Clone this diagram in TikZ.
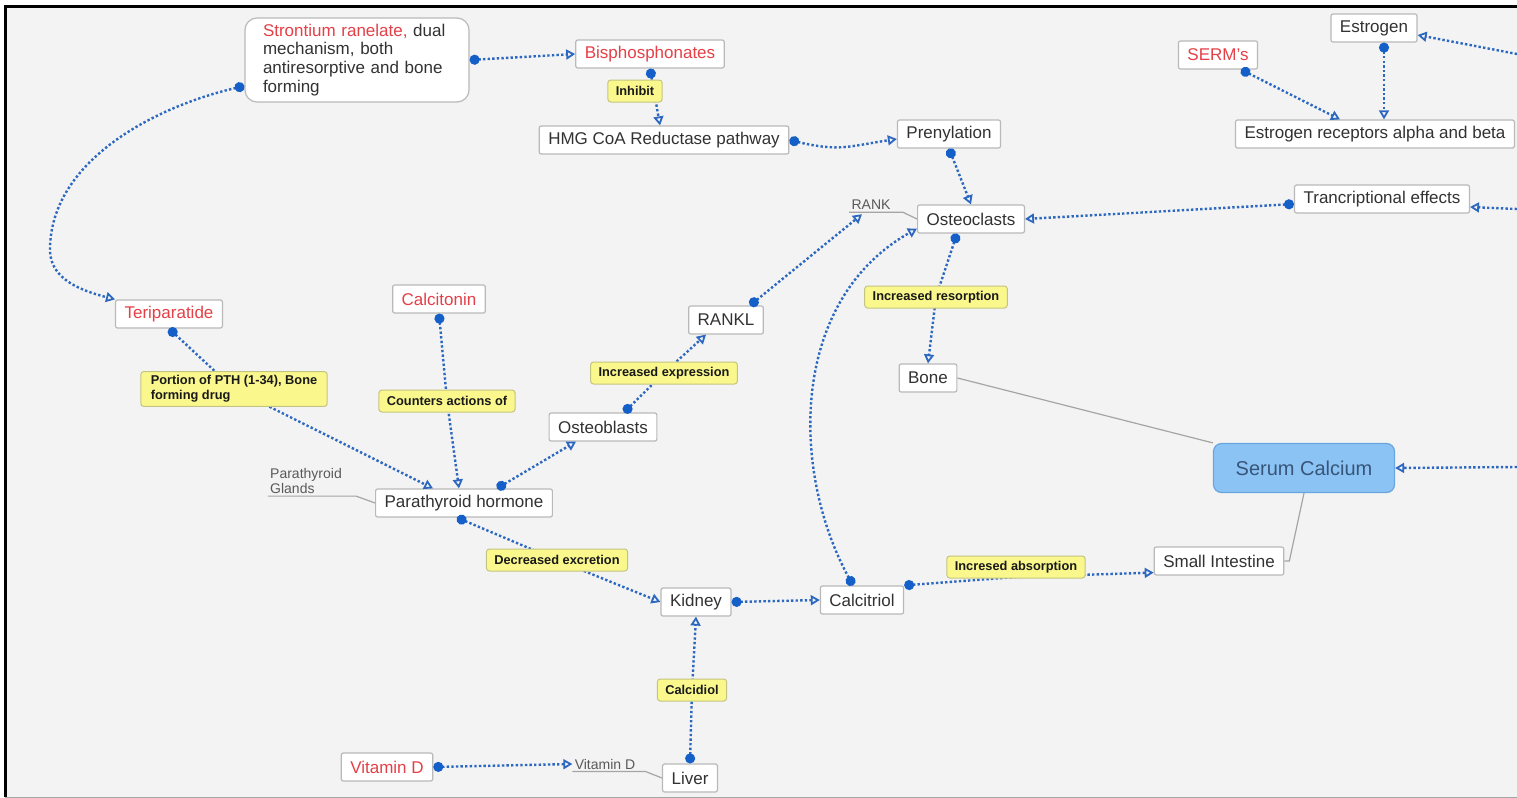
\documentclass[tikz,border=0pt]{standalone}
\usepackage{fontspec}
\setmainfont{Liberation Sans}
\usetikzlibrary{arrows.meta,calc}

\definecolor{bggray}{RGB}{243,243,243}
\definecolor{boxgray}{RGB}{185,185,185}
\definecolor{txtgray}{RGB}{50,50,50}
\definecolor{drugred}{RGB}{228,64,72}
\definecolor{linkblue}{RGB}{45,104,192}
\definecolor{dotblue}{RGB}{20,96,200}
\definecolor{tagyellow}{RGB}{250,248,140}
\definecolor{tagedge}{RGB}{196,196,130}
\definecolor{tiegray}{RGB}{165,165,165}
\definecolor{calfill}{RGB}{140,195,245}
\definecolor{caledge}{RGB}{105,165,225}
\definecolor{caltext}{RGB}{55,85,120}

\begin{document}
\begin{tikzpicture}[x=0.5pt,y=-0.5pt]

  \useasboundingbox (0,0) rectangle (1517,798);
  \fill[white] (0,0) rectangle (1517,798);
  \fill[bggray] (5,6) rectangle (1517,797);
  \draw[tiegray] (5,797) -- (1517,797);
  \draw[black,line width=1.5pt] (5,797) -- (5,6) -- (1517,6);

  \coordinate (X) at (0,0);

  % node styles
  \tikzstyle{Box}=[
  shape=rectangle,rounded corners=1pt,
  draw=boxgray,fill=white,line width=0.6pt,
  text=txtgray,
  font=\fontsize{8.5}{9.4}\selectfont,
  inner xsep=4.5pt,inner ysep=2pt,minimum height=14pt]

  \tikzstyle{Drug}=[Box,text=drugred]

  \tikzstyle{Tag}=[
  shape=rectangle,rounded corners=1.5pt,
  draw=tagedge,fill=tagyellow,line width=0.5pt,
  text=black!90,
  font=\fontsize{6.4}{7.5}\selectfont\bfseries,
  inner xsep=4pt,inner ysep=2pt,minimum height=11pt]

  \tikzstyle{Port}=[font=\fontsize{7}{7.6}\selectfont,text=black!65,inner sep=1pt]

  % connector styles
  \tikzstyle{Link}=[
  linkblue,line width=1.2pt,dash pattern=on 1.2pt off 1.1pt,
  {Circle[length=5pt,color=dotblue]}-{Triangle[open,length=4.5pt,width=5pt,line width=0.9pt]}]

  \tikzstyle{LinkIn}=[Link,-{Triangle[open,length=4.5pt,width=5pt,line width=0.9pt]}]

  \tikzstyle{Tie}=[tiegray,line width=0.6pt]

  % boxes
  \draw (X) node[Box,align=left,text width=94pt,inner xsep=9pt,
    minimum height=42pt,rounded corners=6pt] (SR) at +(357,60)
    {\textcolor{drugred}{Strontium ranelate,} dual\\mechanism, both\\antiresorptive and bone\\forming};

  \draw (X) node[Drug] (BP)  at +( 650, 54) {Bisphosphonates};
  \draw (X) node[Box]  (HMG) at +( 664,140) {HMG CoA Reductase pathway};
  \draw (X) node[Box]  (PR)  at +( 949,134) {Prenylation};
  \draw (X) node[Box]  (OC)  at +( 971,219) {Osteoclasts};
  \draw (X) node[Port] (RK)  at +( 871,205) {RANK};

  \draw (X) node[Drug] (SE)  at +(1218, 55) {SERM's};
  \draw (X) node[Box]  (ES)  at +(1374, 28) {Estrogen};
  \draw (X) node[Box]  (ER)  at +(1375,134) {Estrogen receptors alpha and beta};
  \draw (X) node[Box]  (TE)  at +(1382,199) {Trancriptional effects};

  \draw (X) node[Drug] (TP)  at +( 169,314) {Teriparatide};
  \draw (X) node[Drug] (CT)  at +( 439,299) {Calcitonin};
  \draw (X) node[Box]  (RL)  at +( 726,320) {RANKL};
  \draw (X) node[Box]  (OB)  at +( 603,427) {Osteoblasts};
  \draw (X) node[Box]  (BN)  at +( 928,378) {Bone};

  \draw (X) node[Port,align=left] (PG) at +(306,481) {Parathyroid\\Glands};
  \draw (X) node[Box]  (PTH) at +( 464,503) {Parathyroid hormone};

  \draw (X) node[Box,draw=caledge,fill=calfill,text=caltext,rounded corners=4pt,
    font=\fontsize{10}{12}\selectfont,minimum width=90.5pt,minimum height=24.5pt]
    (SC) at +(1304,468) {Serum Calcium};
  \draw (X) node[Box]  (SI)  at +(1219,561) {Small Intestine};

  \draw (X) node[Box]  (KD)  at +( 696,602) {Kidney};
  \draw (X) node[Box]  (CR)  at +( 862,600) {Calcitriol};

  \draw (X) node[Drug] (VD)  at +( 387,767) {Vitamin D};
  \draw (X) node[Port] (VL)  at +( 605,764) {Vitamin D};
  \draw (X) node[Box]  (LV)  at +( 690,778) {Liver};

  % label spots
  \coordinate (tIN) at ( 635, 91);
  \coordinate (tPT) at ( 234,389);
  \coordinate (tCA) at ( 447,401);
  \coordinate (tIE) at ( 664,373);
  \coordinate (tIR) at ( 936,297);
  \coordinate (tDE) at ( 557,560);
  \coordinate (tIA) at (1016,577);
  \coordinate (tCD) at ( 692,690);

  % free ends at the right margin
  \coordinate (E1) at (1517, 54);
  \coordinate (E2) at (1517,209);
  \coordinate (E3) at (1517,467);

  % plain ties
  \draw[Tie] (BN.east) -- (SC.north west);
  \draw[Tie] (SC.south) -- ($(SI.east)+(5,0)$) -- (SI.east);
  \draw[Tie] (RK.south west) -- ($(RK.south east)+(10,0)$) -- (OC.west);
  \draw[Tie] (PG.south west) -- ($(PG.south east)+(12,0)$) -- (PTH.west);
  \draw[Tie] (VL.south west) -- ($(VL.south east)+(8,0)$) -- (LV.west);

  % connectors
  \draw[Link] (SR.east) -- (BP.west);
  \draw[Link] ($(SR.west)+(0,26)$) .. controls (157,106) and (50,160) .. (50,250)
    .. controls (50,280) and (83,291) .. (TP.north west);
  \draw[Link] (BP.south) -- ($(HMG.north)+(-4,0)$);
  \draw[Link] (HMG.east) .. controls (840,152) and (850,146) .. ($(PR.west)+(0,5)$);
  \draw[Link] (PR.south) -- (OC.north);
  \draw[Link] ($(RL.north)+(24,0)$) -- ($(RK.south)+(-9,2)$);
  \draw[Link] ($(OC.south)+(-14,0)$) -- (tIR) -- (BN.north);
  \draw[Link] ($(CR.north)+(-9,0)$) .. controls (790,470) and (790,300) .. ($(OC.south west)+(0,-5)$);

  \draw[Link] (TP.south) -- (tPT) -- ($(PTH.north)+(-31,0)$);
  \draw[Link] (CT.south) -- (tCA) -- ($(PTH.north)+(-5,0)$);
  \draw[Link] ($(PTH.north)+(33,0)$) -- ($(OB.south)+(-27,0)$);
  \draw[Link] ($(OB.north)+(21,0)$) -- (tIE) -- ($(RL.south)+(-20,0)$);
  \draw[Link] ($(PTH.south)+(-7,0)$) -- (tDE) -- (KD.west);

  \draw[Link] (KD.east) -- (CR.west);
  \draw[Link] (CR.north east) -- (tIA) -- ($(SI.south west)+(0,-3)$);
  \draw[Link] (LV.north) -- (tCD) -- (KD.south);
  \draw[Link] (VD.east) -- (VL.west);

  \draw[Link] ($(ES.south)+(10,0)$) -- ($(ER.north)+(9,0)$);
  \draw[Link] ($(SE.south)+(23,0)$) -- ($(ER.north)+(-35,0)$);
  \draw[Link] ($(TE.west)+(0,5)$) -- (OC.east);

  \draw[LinkIn] (E1) -- ($(ES.east)+(0,7)$);
  \draw[LinkIn] (E2) -- ($(TE.east)+(0,8)$);
  \draw[LinkIn] (E3) -- (SC.east);

  % labels on the connectors
  \draw (X) node[Tag] (IN) at (tIN) {Inhibit};
  \draw (X) node[Tag,align=left,inner xsep=5pt] (PT) at (tPT) {Portion of PTH (1-34), Bone\\forming drug};
  \draw (X) node[Tag] (CA) at (tCA) {Counters actions of};
  \draw (X) node[Tag] (IE) at (tIE) {Increased expression};
  \draw (X) node[Tag] (IR) at (tIR) {Increased resorption};
  \draw (X) node[Tag] (DE) at (tDE) {Decreased excretion};
  \draw (X) node[Tag] (IA) at ($(tIA)+(0,-10)$) {Incresed absorption};
  \draw (X) node[Tag] (CD) at (tCD) {Calcidiol};

\end{tikzpicture}
\end{document}
